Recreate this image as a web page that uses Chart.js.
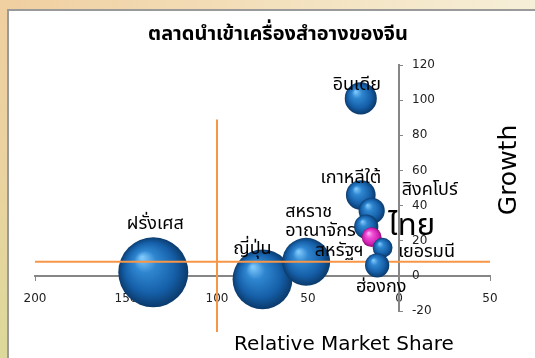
<!DOCTYPE html>
<html><head><meta charset="utf-8">
<script src="https://cdn.jsdelivr.net/npm/chart.js@4/dist/chart.umd.min.js"></script>
<style>html,body{margin:0;padding:0;background:#fff;overflow:hidden}canvas{display:block}</style>
</head><body>
<canvas id="c" width="535" height="358"></canvas>
<script>
// ---- data ----
const countries = ['ฝรั่งเศส', 'ญี่ปุ่น', 'สหรัฐฯ', 'อินเดีย', 'เกาหลีใต้', 'สิงคโปร์', 'สหราช\nอาณาจักร', 'ไทย', 'เยอรมนี', 'ฮ่องกง'];
const relativeShare = [135, 75, 51, 21, 21, 15, 18, 15, 9, 12];
const growth = [2, -2, 8, 101, 46, 37, 28, 22, 16, 6];
const marketSize = [100, 73, 47, 21, 18, 14, 12, 8, 8, 12];
const xTicks = [200, 150, 100, 50, 0, -50];
const yTicks = [120, 100, 80, 60, 40, 20, 0, -20];
const growthDivider = 8;      // horizontal quadrant line
const shareDivider = 100;     // vertical quadrant line
const hLineShareRange = [200, -50];
const vLineGrowthRange = [89, -32];
const highlight = 'ไทย';
const frontCountry = 'ฮ่องกง';

// ---- presentation ----
const THAI = "'Noto Sans Thai','Tahoma','Leelawadee UI','DejaVu Sans',sans-serif";
const LAT = "'DejaVu Sans','Tahoma',sans-serif";
const labelLayout = {
  'ฝรั่งเศส': {dx: 2, dy: -47},
  'ญี่ปุ่น': {dx: -10, dy: -29},
  'สหรัฐฯ': {dx: 33, dy: -9},
  'อินเดีย': {dx: -4, dy: -12},
  'เกาหลีใต้': {dx: -10, dy: -16},
  'สิงคโปร์': {dx: 58, dy: -19},
  'สหราช\nอาณาจักร': {dx: -81, dy: -13, align: 'left', lh: 19},
  'ไทย': {dx: 40, dy: -8, size: 31, weight: 'normal'},
  'เยอรมนี': {dx: 44, dy: 6},
  'ฮ่องกง': {dx: 4, dy: 23}
};
const rScale = 3.5;

const points = countries.map((c, i) => ({x: relativeShare[i], y: growth[i], r: rScale * Math.sqrt(marketSize[i]), name: c}));

function bubbleFill(ctx) {
  if (ctx.type !== 'data') return '#1f6fb8';
  const ch = ctx.chart, c = ch.ctx, xs = ch.scales.x, ys = ch.scales.y;
  const p = ctx.raw;
  const cx = xs.getPixelForValue(p.x), cy = ys.getPixelForValue(p.y), r = p.r;
  if (!isFinite(cx) || !isFinite(cy)) return '#1f6fb8';
  const g = c.createRadialGradient(cx - r * 0.32, cy - r * 0.42, r * 0.04, cx, cy, r * 1.02);
  if (p.name === highlight) {
    g.addColorStop(0, '#ffb0f4'); g.addColorStop(0.3, '#f050d8');
    g.addColorStop(0.75, '#d020b0'); g.addColorStop(1, '#8a0a70');
  } else {
    g.addColorStop(0, '#7cc6fa'); g.addColorStop(0.28, '#2f86d0');
    g.addColorStop(0.7, '#155fa8'); g.addColorStop(1, '#0a3868');
  }
  return g;
}

const bgPlugin = {
  id: 'bg',
  beforeDraw(chart) {
    const c = chart.ctx, W = chart.width, H = chart.height;
    c.save();
    const top = c.createLinearGradient(0, 0, W, 0);
    top.addColorStop(0, '#f0cfa0'); top.addColorStop(0.5, '#f3e0bc'); top.addColorStop(1, '#f6efd8');
    c.fillStyle = top; c.fillRect(0, 0, W, H);
    const left = c.createLinearGradient(0, 0, 0, H);
    left.addColorStop(0, '#f0cfa0'); left.addColorStop(0.5, '#ead3a0'); left.addColorStop(1, '#dcd99a');
    c.fillStyle = left; c.fillRect(0, 0, 9, H);
    c.fillStyle = '#9a9a9a'; c.fillRect(7, 9, W - 7, H - 9);
    c.fillStyle = '#ffffff'; c.fillRect(9, 11, W - 9, H - 11);
    c.restore();
  }
};

const textPlugin = {
  id: 'texts',
  afterDatasetsDraw(chart) {
    const c = chart.ctx, ys = chart.scales.y, xs = chart.scales.x;
    c.save();
    // y tick labels, right of the axis
    const ax = xs.getPixelForValue(0);
    c.fillStyle = '#222'; c.font = '12px ' + LAT; c.textAlign = 'left'; c.textBaseline = 'middle';
    ys.ticks.forEach(t => c.fillText(String(t.value), ax + 13, ys.getPixelForValue(t.value)));
    // data labels
    chart.data.datasets.forEach((ds, di) => {
      if (ds.type !== 'bubble') return;
      const meta = chart.getDatasetMeta(di);
      meta.data.forEach((el, i) => {
        const name = ds.data[i].name;
        const L = labelLayout[name] || {dx: 0, dy: 0};
        c.font = (L.weight || 'normal') + ' ' + (L.size || 18) + 'px ' + THAI;
        c.fillStyle = '#000';
        c.textAlign = L.align || 'center';
        c.textBaseline = 'middle';
        const lines = name.split('\n');
        lines.forEach((ln, k) => c.fillText(ln, el.x + L.dx, el.y + L.dy + k * (L.lh || 18)));
      });
    });
    // titles
    c.textAlign = 'center'; c.textBaseline = 'middle'; c.fillStyle = '#000';
    c.font = 'bold 20px ' + THAI;
    c.fillText('ตลาดนำเข้าเครื่องสำอางของจีน', 278, 36);
    c.font = '20px ' + LAT;
    c.fillText('Relative Market Share', 344, 345);
    c.save();
    c.translate(509, 170); c.rotate(-Math.PI / 2);
    c.font = '25px ' + LAT;
    c.fillText('Growth', 0, 0);
    c.restore();
    c.restore();
  }
};

const mainPts = points.filter(p => p.name !== frontCountry);
const frontPts = points.filter(p => p.name === frontCountry);
const orange = '#f79646';

new Chart(document.getElementById('c'), {
  type: 'bubble',
  data: {
    datasets: [
      {type: 'bubble', data: mainPts, backgroundColor: bubbleFill, borderWidth: 0, order: 3},
      {type: 'line', data: [{x: hLineShareRange[0], y: growthDivider}, {x: hLineShareRange[1], y: growthDivider}],
        borderColor: orange, borderWidth: 2, pointRadius: 0, clip: false, order: 2},
      {type: 'line', data: [{x: shareDivider, y: vLineGrowthRange[0]}, {x: shareDivider, y: vLineGrowthRange[1]}],
        borderColor: orange, borderWidth: 2, pointRadius: 0, clip: false, order: 2},
      {type: 'bubble', data: frontPts, backgroundColor: bubbleFill, borderWidth: 0, order: 1}
    ]
  },
  options: {
    responsive: false, animation: false, events: [],
    layout: {padding: {left: 34, right: 45, top: 65, bottom: 47}},
    plugins: {legend: {display: false}, tooltip: {enabled: false}, title: {display: false}},
    scales: {
      x: {
        type: 'linear', reverse: true, min: -50, max: 200, position: {y: 0},
        afterBuildTicks: s => { s.ticks = xTicks.map(v => ({value: v})); },
        ticks: {color: '#222', font: {family: LAT, size: 12}, padding: 12, maxRotation: 0, autoSkip: false,
          callback: v => String(Math.abs(v))},
        grid: {drawOnChartArea: false, drawTicks: true, tickLength: 4, color: '#868686', lineWidth: 1},
        border: {color: '#868686', width: 2}
      },
      y: {
        type: 'linear', min: -20, max: 120, position: {x: 0},
        afterBuildTicks: s => { s.ticks = yTicks.map(v => ({value: v})); },
        ticks: {display: false},
        grid: {drawOnChartArea: false, drawTicks: true, tickLength: -5, color: '#868686', lineWidth: 1},
        border: {color: '#868686', width: 2}
      }
    }
  },
  plugins: [bgPlugin, textPlugin]
});
</script>
</body></html>
